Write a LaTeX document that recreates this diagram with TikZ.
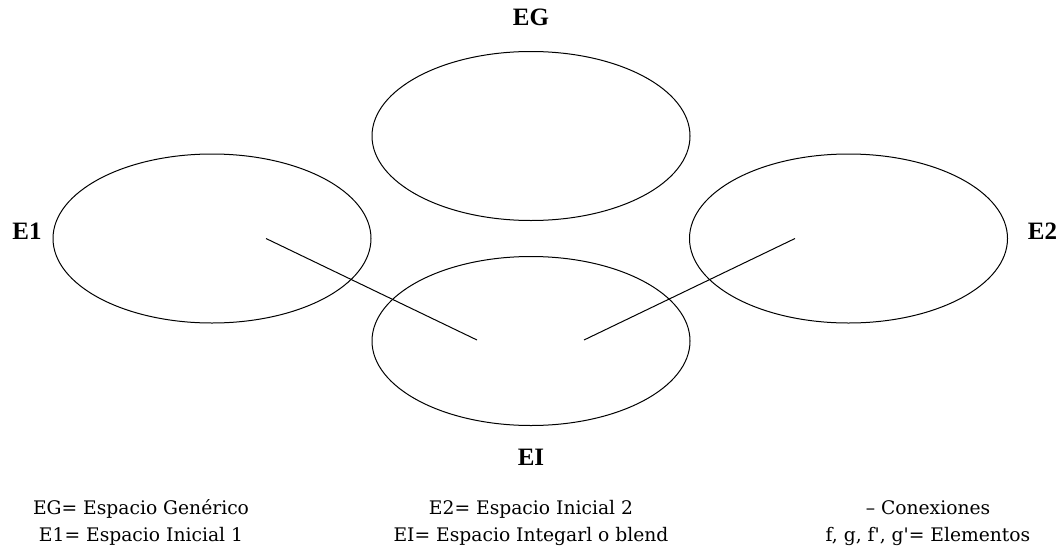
\documentclass[tikz,border=0pt]{standalone}
\usepackage{fontspec}
\setmainfont{DejaVu Serif}
\newfontfamily\labfont{Liberation Serif}
\usepackage{tikz}
\usetikzlibrary{%
  positioning
 ,shapes.geometric
 ,calc
}
\tikzstyle{esp}=[ellipse,draw=black,line width=0.5pt,minimum width=159pt,minimum height=84.5pt,inner sep=0pt]
\tikzstyle{lab}=[anchor=base,inner sep=0pt,font=\labfont\fontsize{12.5pt}{14pt}\selectfont\bfseries]
\tikzstyle{leg}=[anchor=base,inner sep=0pt,font=\fontsize{9.35pt}{11pt}\selectfont]
\tikzstyle{cx}=[line width=0.5pt]

\begin{document}
\begin{tikzpicture}[x=1pt,y=1pt]
  \useasboundingbox (0,0) rectangle (532,274);
  \node[esp] (e_g) at (265.5,206)    {};
  \node[esp] (e_1) at (106,154.75)   {};
  \node[esp] (e_2) at (424.25,154.75) {};
  \node[esp] (e_i) at (265.5,103.5)  {};
%
  \coordinate (f)  at ($(e_1.center)+(27,0)$);
  \coordinate (g)  at ($(e_2.center)+(-26.75,0)$);
  \coordinate (f') at ($(e_i.center)+(-27,0.5)$);
  \coordinate (g') at ($(e_i.center)+(26.5,0.5)$);
  \path[cx]
  (f) edge (f')
  (g) edge (g');
%
  \node[lab] (l_g) at (265.5,261.5) {EG};
  \node[lab] (l_1) at (13.5,154.5)  {E1};
  \node[lab] (l_2) at (521.25,154.5) {E2};
  \node[lab] (l_i) at (265.5,41.5)  {EI};
%
  \node[leg] (d_g) at (70.5,17)   {EG= Espacio Genérico};
  \node[leg] (d_1) at (70.5,3.5)  {E1= Espacio Inicial 1};
  \node[leg] (d_2) at (265.5,17)  {E2= Espacio Inicial 2};
  \node[leg] (d_i) at (265.5,3.5) {EI= Espacio Integarl o blend};
  \node[leg] (d_c) at (464,17)    {– Conexiones};
  \node[leg] (d_e) at (464,3.5)   {f, g, f\textquotesingle, g\textquotesingle= Elementos};

\end{tikzpicture}
\end{document}
